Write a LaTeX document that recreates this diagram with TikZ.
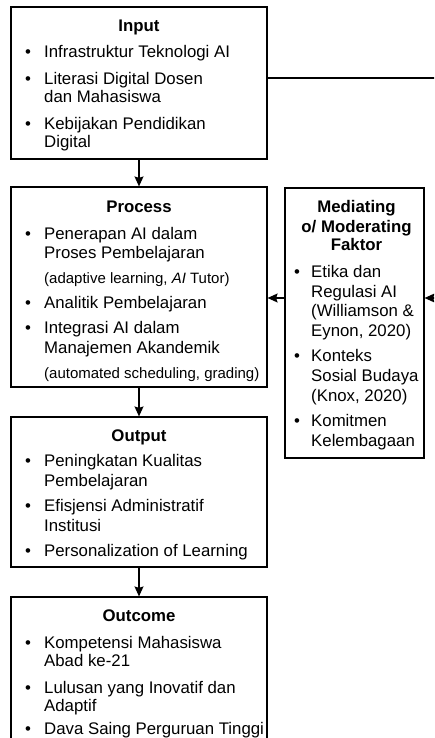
\documentclass[tikz,border=0pt]{standalone}
\usepackage{fontspec}
\setmainfont{Liberation Sans}
\usetikzlibrary{arrows.meta}
\tikzset{
  box/.style={draw, line width=1.2pt, rectangle, inner sep=0pt},
  arr/.style={line width=1.2pt, -{Stealth[length=10pt,width=9pt,inset=1.5pt]}},
  con/.style={line width=1.2pt},
  txt/.style={anchor=base west, inner sep=0pt, font=\fontsize{16.8}{19}\selectfont},
  sub/.style={anchor=base west, inner sep=0pt, font=\fontsize{15}{17}\selectfont},
  ttl/.style={anchor=base, inner sep=0pt, font=\fontsize{16.8}{19}\selectfont\bfseries},
  bul/.style={anchor=base, inner sep=0pt, font=\fontsize{16.8}{19}\selectfont},
}
\begin{document}
\begin{tikzpicture}[x=1pt,y=-1pt]
\clip (0,0) rectangle (434,738);
\fill[white] (0,0) rectangle (434,738);
% boxes
\node[box, minimum width=256pt, minimum height=152pt] (input) at (139,83) {};
\node[box, minimum width=256pt, minimum height=200pt] (process) at (139,287) {};
\node[box, minimum width=139pt, minimum height=270pt] (med) at (354.5,323) {};
\node[box, minimum width=256pt, minimum height=150pt] (output) at (139,492) {};
\node[box, minimum width=256pt, minimum height=180pt] (outcome) at (139,687) {};
% Input text
\node[ttl] (ti) at (139,32) {Input};
\node[bul] (bi1) at (28,58) {•}; \node[txt] (i1) at (44,58) {Infrastruktur Teknologi AI};
\node[bul] (bi2) at (28,85) {•}; \node[txt] (i2a) at (44,85) {Literasi Digital Dosen};
\node[txt] (i2b) at (44,103) {dan Mahasiswa};
\node[bul] (bi3) at (28,130) {•}; \node[txt] (i3a) at (44,130) {Kebijakan Pendidikan};
\node[txt] (i3b) at (44,148) {Digital};
% Process text
\node[ttl] (tp) at (139,212) {Process};
\node[bul] (bp1) at (28,239) {•}; \node[txt] (p1a) at (44,239) {Penerapan AI dalam};
\node[txt] (p1b) at (44,258) {Proses Pembelajaran};
\node[sub] (p1c) at (44,283) {(adaptive learning, \textit{AI} Tutor)};
\node[bul] (bp2) at (28,308) {•}; \node[txt] (p2) at (44,308) {Analitik Pembelajaran};
\node[bul] (bp3) at (28,333) {•}; \node[txt] (p3a) at (44,333) {Integrasi AI dalam};
\node[txt] (p3b) at (44,353) {Manajemen Akandemik};
\node[sub] (p3c) at (44,378) {(automated scheduling, grading)};
% Mediating text
\node[ttl] (tm1) at (356.5,212) {Mediating};
\node[ttl] (tm2) at (356.5,232) {o/ Moderating};
\node[ttl] (tm3) at (356.5,250) {Faktor};
\node[bul] (bm1) at (297,277) {•}; \node[txt] (m1a) at (311,277) {Etika dan};
\node[txt] (m1b) at (311,297) {Regulasi AI};
\node[txt] (m1c) at (311,316) {(Williamson \&};
\node[txt] (m1d) at (311,336) {Eynon, 2020)};
\node[bul] (bm2) at (297,361) {•}; \node[txt] (m2a) at (311,361) {Konteks};
\node[txt] (m2b) at (311,381) {Sosial Budaya};
\node[txt] (m2c) at (311,401) {(Knox, 2020)};
\node[bul] (bm3) at (297,426) {•}; \node[txt] (m3a) at (311,426) {Komitmen};
\node[txt] (m3b) at (311,446) {Kelembagaan};
% Output text
\node[ttl] (to) at (139,441) {Output};
\node[bul] (bo1) at (28,466) {•}; \node[txt] (o1a) at (44,466) {Peningkatan Kualitas};
\node[txt] (o1b) at (44,486) {Pembelajaran};
\node[bul] (bo2) at (28,511) {•}; \node[txt] (o2a) at (44,511) {Efisjensi Administratif};
\node[txt] (o2b) at (44,531) {Institusi};
\node[bul] (bo3) at (28,556) {•}; \node[txt] (o3) at (44,556) {Personalization of Learning};
% Outcome text
\node[ttl] (tc) at (139,621) {Outcome};
\node[bul] (bc1) at (28,648) {•}; \node[txt] (c1a) at (44,648) {Kompetensi Mahasiswa};
\node[txt] (c1b) at (44,666) {Abad ke-21};
\node[bul] (bc2) at (28,693) {•}; \node[txt] (c2a) at (44,693) {Lulusan yang Inovatif dan};
\node[txt] (c2b) at (44,711) {Adaptif};
\node[bul] (bc3) at (28,734) {•}; \node[txt] (c3) at (44,734) {Dava Saing Perguruan Tinggi};
% connectors
\coordinate (inR) at (440,78);
\coordinate (arY) at (0,298);
\coordinate (medR) at (440,298);
\draw[con] (input.east |- inR) -- (inR);
\draw[arr] (input.south) -- (process.north);
\draw[arr] (process.south) -- (output.north);
\draw[arr] (output.south) -- (outcome.north);
\draw[arr] (med.west |- arY) -- (process.east |- arY);
\draw[arr] (medR) -- (med.east |- arY);
\end{tikzpicture}
\end{document}
